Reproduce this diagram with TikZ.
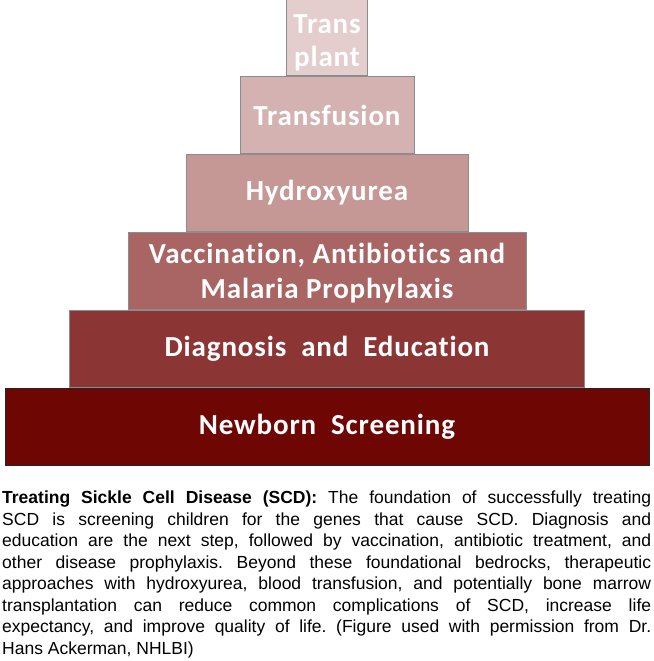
\documentclass[tikz,border=0pt]{standalone}
\usepackage{fontspec}
\setmainfont{Liberation Sans}
\newfontfamily\tierfont[LetterSpace=3, Ligatures=NoCommon]{Carlito}
\usetikzlibrary{positioning}
\definecolor{tierone}{RGB}{110, 6, 4}
\definecolor{tiertwo}{RGB}{139, 53, 52}
\definecolor{tierthree}{RGB}{169, 101, 99}
\definecolor{tierfour}{RGB}{197, 152, 150}
\definecolor{tierfive}{RGB}{212, 178, 177}
\definecolor{tiersix}{RGB}{227, 205, 205}
% two centred lines, pushed down a little inside their level
\newcommand\tierlines[2]{\raisebox{-#1}[\height][\depth]{\begin{tabular}{@{}c@{}}#2\end{tabular}}}

\begin{document}
\frenchspacing
\begin{tikzpicture}[
    x=1pt, y=-1pt, % one unit per pixel of the page
    node distance=0pt, % levels sit right on top of each other
    tier/.style={ % Style for one level of the pyramid, takes fill color
        rectangle,
        minimum height=77.4pt,
        inner sep=0pt,
        align=center,
        text=white,
        font=\tierfont\bfseries\fontsize{29}{35}\selectfont,
        draw=black!45,
        line width=0.6pt,
        fill=#1
    },
    caption/.style={
        anchor=north west,
        inner sep=0pt,
        text width=649pt,
        align=justify,
        font=\fontsize{17.5}{21.5}\selectfont
    }
]
\useasboundingbox (0,0) rectangle (653,661);

% Base of the pyramid
\node[tier=tierone, draw=black!85, minimum width=644pt] (newborn) at (327,427) {Newborn\ \ Screening};

% Levels stacked upwards
\node[tier=tiertwo, minimum width=515pt] (diagnosis) [above=of newborn] {Diagnosis\ \ and\ \ Education};
\node[tier=tierthree, minimum width=398pt] (vaccination) [above=of diagnosis] {\tierlines{3pt}{Vaccination, Antibiotics and\\Malaria Prophylaxis}};
\node[tier=tierfour, minimum width=282pt] (hydroxyurea) [above=of vaccination] {Hydroxyurea};
\node[tier=tierfive, minimum width=174pt] (transfusion) [above=of hydroxyurea] {Transfusion};
\node[tier=tiersix, minimum width=81pt, font=\tierfont\bfseries\fontsize{29}{33}\selectfont] (transplant) [above=of transfusion] {\tierlines{6pt}{Trans\\plant}};

% Caption text below the pyramid
\node[caption] (caption) at (2,491) {%
\textbf{Treating Sickle Cell Disease (SCD):} The foundation of successfully treating\linebreak
SCD is screening children for the genes that cause SCD. Diagnosis and\linebreak
education are the next step, followed by vaccination, antibiotic treatment, and\linebreak
other disease prophylaxis. Beyond these foundational bedrocks, therapeutic\linebreak
approaches with hydroxyurea, blood transfusion, and potentially bone marrow\linebreak
transplantation can reduce common complications of SCD, increase life\linebreak
expectancy, and improve quality of life. (Figure used with permission from Dr.\linebreak
Hans Ackerman, NHLBI)};

\end{tikzpicture}
\end{document}
